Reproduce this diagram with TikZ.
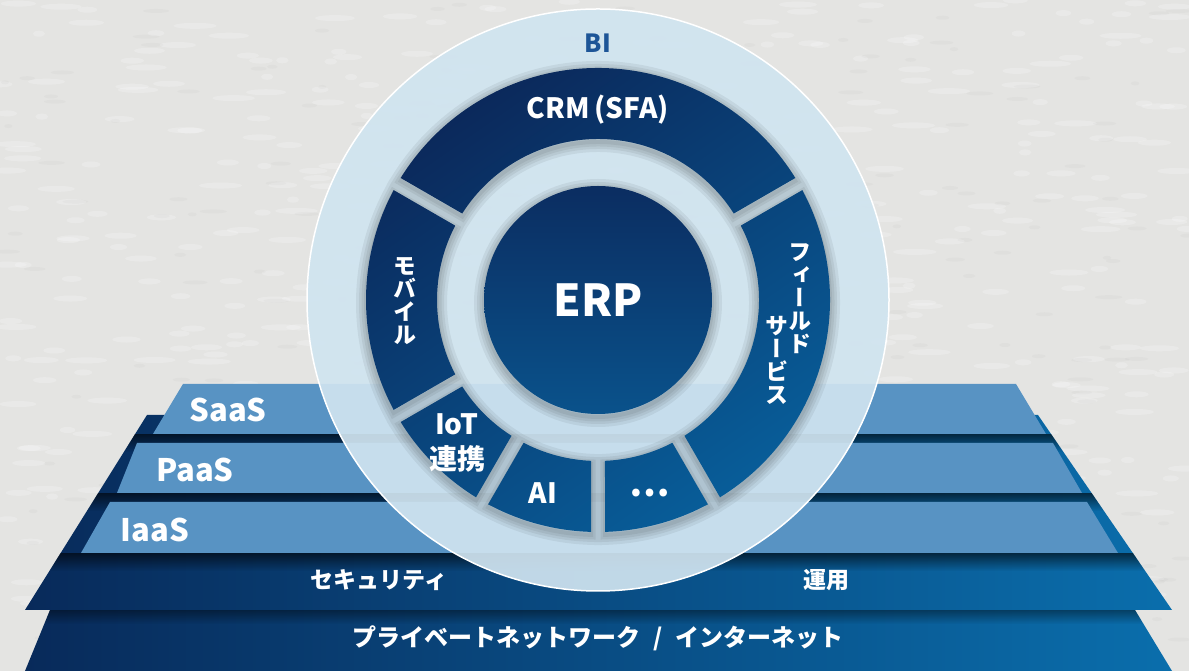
\documentclass[tikz,border=0pt]{standalone}
\usepackage{fontspec}
\setmainfont{Noto Sans CJK JP}
\newfontfamily\tatefont{Noto Sans CJK JP}[RawFeature=+vert]
\usetikzlibrary{fadings}

\definecolor{paper}{HTML}{E4E4E2}
\definecolor{navy}{HTML}{082A5A}
\definecolor{seablue}{HTML}{0A6EAC}
\definecolor{layerblue}{HTML}{5893C3}
\definecolor{ringblue}{HTML}{D0E4F0}
\definecolor{segdark}{HTML}{0B2658}
\definecolor{seglight}{HTML}{085E9A}
\definecolor{erptop}{HTML}{0B2D61}
\definecolor{erpbottom}{HTML}{0A528B}
\definecolor{bitext}{HTML}{1D5597}

% ring segments with parallel gaps
\newcommand\ringsegs{\foreach \a/\b in {30/150,150/210,210/240,240/270,270/300,300/390}
  {(\a+2.49:161) -- (\a+1.73:232) arc[start angle=\a+1.73, end angle=\b-1.73, radius=232]
   -- (\b-2.49:161) arc[start angle=\b-2.49, end angle=\a+2.49, radius=161] -- cycle}}

\begin{document}
\begin{tikzpicture}[x=1pt, y=1pt,
    layer/.style={fill=layerblue},
    base/.style={left color=navy, right color=seablue},
    layerlabel/.style={text=white, font=\bfseries\fontsize{31}{31}\selectfont},
    baselabel/.style={text=white, font=\bfseries\fontsize{23}{23}\selectfont},
    seglabel/.style={text=white, font=\bfseries\fontsize{28}{35}\selectfont, align=center},
    tatelabel/.style={text=white, font=\tatefont\bfseries\fontsize{23}{23}\selectfont, align=center}]

  \useasboundingbox (0,0) rectangle (1189,671);
  \fill[paper] (0,0) rectangle (1189,671);
  % paper texture
  \pgfmathsetseed{11}
  \foreach \i in {1,...,600}{
    \pgfmathsetmacro\px{rnd*1189}
    \pgfmathsetmacro\py{rnd*671}
    \pgfmathsetmacro\pw{6+rnd*16}
    \fill[white, opacity=0.22] (\px,\py) ellipse[x radius=\pw, y radius=3];
  }
  \foreach \i in {1,...,250}{
    \pgfmathsetmacro\px{rnd*1189}
    \pgfmathsetmacro\py{rnd*671}
    \pgfmathsetmacro\pw{4+rnd*10}
    \fill[black!40, opacity=0.06] (\px,\py) ellipse[x radius=\pw, y radius=2];
  }

  % platform
  \path[base] (50,61) -- (1135,61) -- (1172,0) -- (25,0) -- cycle;
  \path[base] (147,256) -- (1038,256) -- (1172,61) -- (25,61) -- cycle;
  \begin{scope}
    \clip (50,61) -- (1135,61) -- (1172,0) -- (25,0) -- cycle;
    \fill[black, opacity=0.4, path fading=south] (0,61) rectangle (1189,47);
  \end{scope}
  \begin{scope}
    \clip (147,256) -- (1038,256) -- (1172,61) -- (25,61) -- cycle;
    \foreach \y in {237,178,118}
      \fill[black, opacity=0.6, path fading=south] (0,\y) rectangle (1189,\y-18);
  \end{scope}
  \fill[layer] (183,287) -- (1016,287) -- (1046,237) -- (153,237) -- cycle;
  \fill[layer] (137,228) -- (1053,228) -- (1082,178) -- (117,178) -- cycle;
  \fill[layer] (110,169) -- (1087,169) -- (1118,118) -- (81,118) -- cycle;

  \node[layerlabel] (saas) at (228,261) {SaaS};
  \node[layerlabel] (paas) at (195,201) {PaaS};
  \node[layerlabel] (iaas) at (155,141) {IaaS};
  \node[baselabel] (security) at (379,91) {セキュリティ};
  \node[baselabel] (ops) at (826,91) {運用};
  \node[baselabel, font=\bfseries\fontsize{24}{24}\selectfont] (network) at (598,33)
    {プライベートネットワーク\hspace{13pt}/\hspace{13pt}インターネット};

  % circle
  \node[circle, minimum size=582pt, inner sep=0pt, fill=ringblue, fill opacity=0.92,
    draw=white, line width=1.5pt] (ring) at (598,371) {};
  \begin{scope}[shift={(ring.center)}]
    \foreach \w in {20,14,9,4}
      \draw[black, opacity=0.06, line width=\w pt, yshift=-3pt] \ringsegs;
    \shade[top color=segdark, bottom color=seglight, shading angle=35] \ringsegs;
    \foreach \w in {20,14,9,4}
      \draw[black, opacity=0.06, line width=\w pt] (0,-3) circle[radius=114];
    \node[circle, minimum size=228pt, inner sep=0pt, top color=erptop, bottom color=erpbottom,
      text=white, font=\bfseries\fontsize{44}{44}\selectfont] (erp) at (0,0) {ERP};
  \end{scope}

  \node[text=bitext, font=\bfseries\fontsize{25}{25}\selectfont] (bi) at (598,628) {BI};
  \node[seglabel] (crm) at (598,561) {CRM\,(SFA)};
  \node[tatelabel] (mobile) at (405,370) {モ\\バ\\イ\\ル};
  \node[tatelabel] (field) at (800,372) {フ\\ィ\\ー\\ル\\ド};
  \node[tatelabel] (service) at (777,311) {サ\\ー\\ビ\\ス};
  \node[seglabel] (iot) at (457,228) {IoT\\連携};
  \node[seglabel] (ai) at (543,178) {AI};
  \node[seglabel, font=\bfseries\fontsize{36}{36}\selectfont] (more) at (650,178) {…};
\end{tikzpicture}
\end{document}
